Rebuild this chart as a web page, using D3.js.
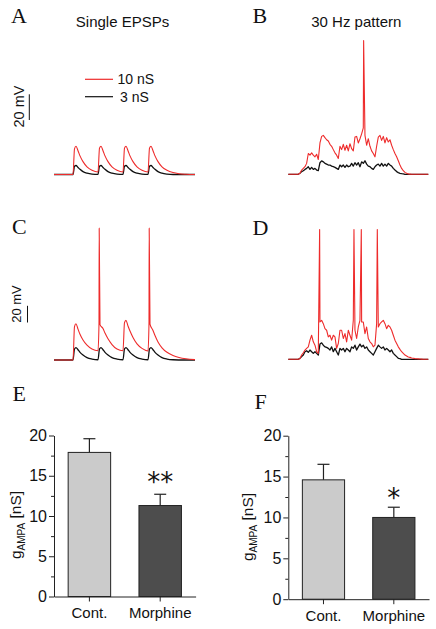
<!DOCTYPE html>
<html><head><meta charset="utf-8">
<script src="https://cdn.jsdelivr.net/npm/d3@7"></script>
<style>
body{margin:0;background:#fff;}
svg{display:block;background:#fff;}
text{font-family:"Liberation Sans",Arial,sans-serif;fill:#111;}
.letter{font-family:"Liberation Serif","Times New Roman",serif;font-size:22px;}
</style></head><body>
<svg id="fig" width="436" height="629"></svg>
<script>
// ---------------- DATA ----------------
const panelLetters = ["A","B","C","D","E","F"];
const panelTitles = ["Single EPSPs","30 Hz pattern"];
const legendLabels = ["10 nS","3 nS"];
const scaleBarMv = 20;
const scaleBarLabel = "20 mV";

// Panel A: single EPSPs (time ms, depolarisation mV)
const tA = [0,190,205,220,240,260,290,330,380,
            440,455,470,490,510,540,580,630,
            690,705,720,740,760,790,830,880,
            940,955,970,990,1010,1040,1080,1130,
            1190,1250,1320,1410];
const aRed = [0,0,20,22,18.5,14.5,10,6,3.3,
              2.0,20.5,22,18.5,14.5,10,6,3.3,
              2.0,20.5,22,18.5,14.5,10,6,3.3,
              2.0,20.5,22,18.5,14.5,10,6,3.3,
              1.5,0.6,0.2,0];
const aBlack = [0,0,6.5,7,5.5,4,2.2,1,0.3,
                0.1,6.5,7,5.5,4,2.2,1,0.3,
                0.1,6.5,7,5.5,4,2.2,1,0.3,
                0.1,6.5,7,5.5,4,2.2,1,0.3,
                0,0,0,0];

// Panel C: single EPSPs with spikes ([time ms, mV])
const cRed = [[0,0],[190,0],[205,40.0],[220,43.4],[240,37.0],[260,30.8],[290,23.9],[330,17.7],[380,13.1],
  [440,11.1],[450,43.9],[452,157.9],[460,42.4],[490,37.7],[510,32.3],[540,25.4],[580,18.5],[630,13.1],
  [690,11.1],[705,44.7],[720,47.4],[740,40.8],[760,34.7],[790,27.0],[830,19.3],[880,13.9],
  [940,10.8],[950,44.7],[952,157.9],[960,43.1],[990,35.4],[1010,29.3],[1040,21.6],[1080,14.6],[1130,9.2],
  [1190,5.4],[1250,3.1],[1320,1.5],[1410,0.5]];
const cBlack = [[0,0],[190,0],[205,13.1],[220,14.9],[240,12.3],[260,9.2],[290,5.9],[330,2.8],[380,1.1],
  [440,0.3],[455,13.4],[470,14.9],[490,12.3],[510,9.2],[540,5.9],[580,2.8],[630,1.1],
  [690,0.3],[705,13.4],[720,14.9],[740,12.3],[760,9.2],[790,5.9],[830,2.8],[880,1.1],
  [940,0.3],[955,13.4],[970,14.9],[990,12.3],[1010,9.2],[1040,5.9],[1080,2.8],[1130,1.1],
  [1190,0.3],[1300,0],[1410,0]];

// Panels B & D: 30 Hz pattern, sampled every dtBD ms (mV)
const dtBD = 10;
const bRed = [0,0,0,0,0,0,0,0.8,3.3,4.6,
  5.9,8.5,16.2,14.9,16.7,14.9,13.6,15.6,11.5,24.4,
  29.5,30.3,28.5,26.9,25.9,23.3,21.8,19.2,16.7,14.9,
  12.3,21.8,19.2,23.3,18.7,22.6,18.2,23.8,20,18.2,
  29,29.5,24.4,27.7,31.5,36.2,30.3,22.6,27.7,21.8,
  18.2,16.2,13.6,21.8,29,30.3,26.4,29.5,24.4,28.5,
  25.1,26.9,22.6,19.2,16.2,13.6,10.5,7.2,4.6,2.8,
  1.5,0.8,0.3,0.1,0,0,0,0,0,0,
  0,0,0,0,0];
const bBlack = [0,0,0,0,0,0,0,0.8,2.1,2.8,
  3.8,4.6,5.9,3.8,5.4,3.8,4.6,3.3,2.8,9.0,
  10.5,9.7,8.5,7.9,7.2,7.2,6.4,5.9,5.4,4.6,
  3.8,7.2,5.9,7.2,5.4,7.2,5.9,6.4,8.5,6.4,
  9.0,7.2,9.0,5.9,9.7,8.5,10.5,7.9,6.4,5.9,
  4.6,3.8,5.9,7.2,7.9,6.4,8.5,6.4,7.9,6.4,
  8.5,7.2,6.4,4.6,3.3,2.1,1.3,0.8,0.5,0.3,
  0,0,0,0,0,0,0,0,0,0,
  0,0,0,0,0];
const bSpikeTimes = [452];
const bSpikePeaks = [104];

const dRed = [0,0,0,0,0,0,0,0.8,5.1,7.9,
  11.1,13.1,14.9,22.9,28.8,20.9,16.9,9.1,7.1,44.7,
  46.7,42.7,36.7,34.8,26.8,28.8,22.9,28.8,26.8,13.1,
  18.9,34.8,34.8,24.9,30.8,20.9,34.8,28.8,22.9,46.7,
  34.8,24.9,38.7,46.7,44.7,44.7,30.8,38.7,24.9,20.9,
  18.9,14.9,16.9,42.7,38.7,42.7,44.7,46.7,42.7,36.7,
  40.7,38.7,34.8,28.8,22.9,18.9,14.9,11.9,9.1,7.1,
  5.1,4.0,2.8,2.3,1.5,1.2,0.8,0.6,0.5,0.3,
  0.2,0,0,0,0];
const dBlack = [0,0,0,0,0,0,0,1.2,3.2,5.1,
  9.1,10.3,8.3,11.1,9.1,7.1,9.1,7.1,5.1,18.2,
  19.7,16.9,14.9,14.2,13.1,11.1,14.9,9.1,13.1,9.1,
  5.1,13.1,11.1,13.1,9.1,13.1,11.1,9.1,14.9,13.1,
  16.9,11.1,14.9,18.2,14.9,16.9,13.1,14.9,11.1,9.1,
  7.1,5.1,9.1,13.1,16.9,14.9,13.1,14.9,11.1,13.1,
  11.1,9.1,11.1,7.1,5.1,3.2,1.2,0.8,0,0,
  0,0,0,0,0,0,0,0,0,0,
  0,0,0,0,0];
const dSpikeTimes = [188,394,438,534];
const dSpikePeaks = [155.5,155.5,155.5,155.5];

// Panels E & F: bar charts
const barCategories = ["Cont.","Morphine"];
const eMeans = [17.9, 11.3];
const eSems = [1.7, 1.4];
const eSig = ["", "**"];
const fMeans = [14.6, 10.0];
const fSems = [1.9, 1.25];
const fSig = ["", "*"];
const barTicks = [0,5,10,15,20];
const barMinorTicks = [2.5,7.5,12.5,17.5];
const yAxisMain = "g", yAxisSub = "AMPA", yAxisUnit = " [nS]";

// ---------------- DRAWING ----------------
const svg = d3.select("#fig");
const RED = "#ee2b2b", BLK = "#111111";
const barFills = ["#cbcbcb", "#4d4d4d"];

function trace(pts, x, y, color, w, curve){
  svg.append("path").datum(pts)
    .attr("fill","none").attr("stroke",color).attr("stroke-width",w)
    .attr("stroke-linejoin","round")
    .attr("d", d3.line().x(d=>x(d[0])).y(d=>y(d[1])).curve(curve));
}
function gridPts(vals, spikeT, spikeV){
  const p = vals.map((v,i)=>[i*dtBD, v]);
  (spikeT||[]).forEach((t,i)=>p.push([t, spikeV[i]]));
  return p.sort((a,b)=>a[0]-b[0]);
}
function scaleBar(x, yBottom, yScale, labelX, labelY, fs){
  const len = yScale(0) - yScale(scaleBarMv);
  svg.append("line").attr("x1",x).attr("x2",x).attr("y1",yBottom).attr("y2",yBottom-len)
    .attr("stroke","#111").attr("stroke-width",1);
  svg.append("text").attr("transform",`translate(${labelX},${labelY}) rotate(-90)`)
    .attr("text-anchor","middle").style("font-size",fs+"px").text(scaleBarLabel);
}

// letters
const letterPos = [[11,23],[252.5,23],[12,234],[252.5,234.5],[12.5,400.5],[254.5,408.5]];
panelLetters.forEach((L,i)=>svg.append("text").attr("class","letter")
  .attr("x",letterPos[i][0]).attr("y",letterPos[i][1]).text(L));

// titles
svg.append("text").attr("x",122.5).attr("y",26.5).attr("text-anchor","middle")
  .style("font-size","15px").text(panelTitles[0]);
svg.append("text").attr("x",356.3).attr("y",26.5).attr("text-anchor","middle")
  .style("font-size","15px").text(panelTitles[1]);

// Panel A
const xAC = d3.scaleLinear().domain([0,1410]).range([54,195]);
const yA = d3.scaleLinear().domain([0,20]).range([174.5,148.8]);
trace(tA.map((t,i)=>[t,aBlack[i]]), xAC, yA, BLK, 1.3, d3.curveMonotoneX);
trace(tA.map((t,i)=>[t,aRed[i]]), xAC, yA, RED, 1.1, d3.curveMonotoneX);
scaleBar(29.3, 120, yA, 23.5, 106.5, 14.5);

// legend
[RED, BLK].forEach((c,i)=>{
  const ly = [79.3, 96.7][i];
  svg.append("line").attr("x1",85).attr("x2",113).attr("y1",ly).attr("y2",ly)
    .attr("stroke",c).attr("stroke-width",1.2);
  svg.append("text").attr("x",[117.5,120][i]).attr("y",ly+5).style("font-size","14px")
    .text(legendLabels[i]);
});

// Panel C (scale bar: 20 mV = 16.7 px)
const yC = d3.scaleLinear().domain([0,20]).range([360,343.3]);
trace(cBlack, xAC, yC, BLK, 1.3, d3.curveMonotoneX);
trace(cRed, xAC, yC, RED, 1.1, d3.curveMonotoneX);
scaleBar(27.5, 322.5, yC, 20.5, 304, 13);

// Panel B
const xBD = d3.scaleLinear().domain([0,840]).range([288.3,428.3]);
const yB = d3.scaleLinear().domain([0,20]).range([174.3,148.6]);
trace(gridPts(bBlack), xBD, yB, BLK, 1.3, d3.curveLinear);
trace(gridPts(bRed, bSpikeTimes, bSpikePeaks), xBD, yB, RED, 1.1, d3.curveLinear);

// Panel D
const yD = d3.scaleLinear().domain([0,20]).range([359.3,342.6]);
trace(gridPts(dBlack), xBD, yD, BLK, 1.3, d3.curveLinear);
trace(gridPts(dRed, dSpikeTimes, dSpikePeaks), xBD, yD, RED, 1.1, d3.curveLinear);

// Bar panels
function barPanel(c, means, sems, sig){
  const y = d3.scaleLinear().domain([0,20]).range([c.y0, c.y20]);
  const x = d3.scaleBand().domain(barCategories).range([c.x0, c.x1])
    .paddingInner(0.4).paddingOuter(0.2);
  const g = svg.append("g");
  barCategories.forEach((cat,i)=>{
    const cx = x(cat) + x.bandwidth()/2;
    g.append("line").attr("x1",cx).attr("x2",cx).attr("y1",y(means[i])).attr("y2",y(means[i]+sems[i]))
      .attr("stroke","#222").attr("stroke-width",1.2);
    g.append("line").attr("x1",cx-6).attr("x2",cx+6).attr("y1",y(means[i]+sems[i])).attr("y2",y(means[i]+sems[i]))
      .attr("stroke","#222").attr("stroke-width",1.2);
  });
  g.selectAll("rect.bar").data(barCategories).enter().append("rect")
    .attr("x",d=>x(d)).attr("width",x.bandwidth())
    .attr("y",(d,i)=>y(means[i])).attr("height",(d,i)=>y(0)-y(means[i]))
    .attr("fill",(d,i)=>barFills[i]).attr("stroke","#222").attr("stroke-width",1);
  barCategories.forEach((cat,i)=>{
    if(!sig[i]) return;
    g.append("text").attr("x", x(cat)+x.bandwidth()/2).attr("y", c.starY)
      .attr("text-anchor","middle").style("font-family","'DejaVu Sans',sans-serif")
      .style("font-size","26px").text(sig[i]);
  });
  const ya = g.append("g").attr("transform",`translate(${c.x0},0)`)
    .call(d3.axisLeft(y).tickValues(barTicks).tickSize(5).tickSizeOuter(0).tickFormat(d3.format("d")));
  g.append("g").attr("transform",`translate(${c.x0},0)`)
    .call(d3.axisLeft(y).tickValues(barMinorTicks).tickSize(3).tickSizeOuter(0).tickFormat(""))
    .select(".domain").remove();
  ya.selectAll("text").style("font-size","16px").attr("x",-7);
  const xa = g.append("g").attr("transform",`translate(0,${c.y0})`)
    .call(d3.axisBottom(x).tickSize(5).tickSizeOuter(0));
  xa.selectAll("text").style("font-size","15px").attr("y",11);
  g.selectAll(".domain, .tick line").attr("stroke","#222");
  g.selectAll(".tick text").attr("fill","#111").style("font-family","'Liberation Sans',Arial,sans-serif");
  const lab = g.append("text").attr("transform",`translate(${c.labX},${c.labY}) rotate(-90)`)
    .attr("text-anchor","middle").style("font-size","15.5px");
  lab.append("tspan").text(yAxisMain);
  lab.append("tspan").attr("dy",4).style("font-size","10px").text(yAxisSub);
  lab.append("tspan").attr("dy",-4).text(yAxisUnit);
}
barPanel({x0:54, x1:195.6, y0:596.5, y20:435.5, labX:20.5, labY:525, starY:491}, eMeans, eSems, eSig);
barPanel({x0:288.3, x1:429, y0:599.2, y20:435.7, labX:252.5, labY:527, starY:507}, fMeans, fSems, fSig);
</script></body></html>
